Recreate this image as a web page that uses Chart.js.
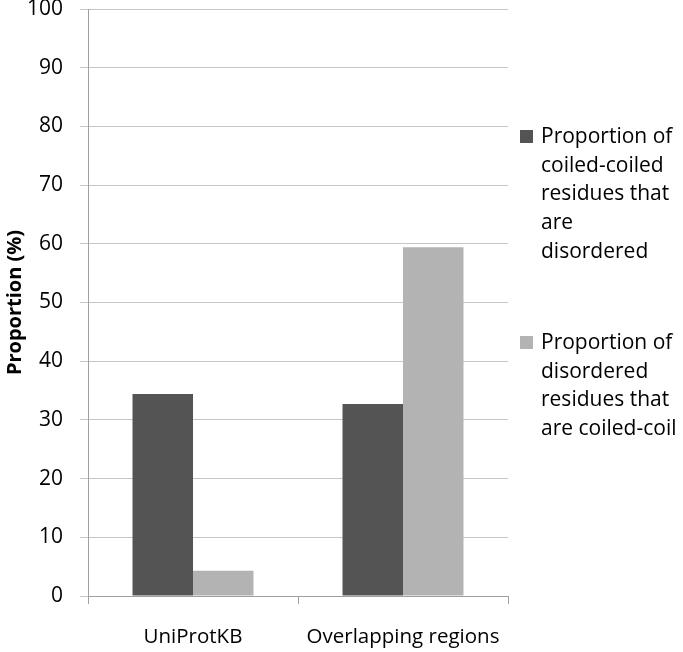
<!DOCTYPE html>
<html>
<head>
<meta charset="utf-8">
<script src="https://cdn.jsdelivr.net/npm/chart.js@4/dist/chart.umd.min.js"></script>
<style>
  html, body { margin: 0; padding: 0; background: #fff; }
  #wrap { width: 683px; height: 652px; position: relative; }
</style>
</head>
<body>
<div id="wrap"><canvas id="barChart"></canvas></div>
<script>
const categories = ['UniProtKB', 'Overlapping regions'];
const disorderedCoiled = [34.4, 32.7];
const coiledDisordered = [4.3, 59.4];
const seriesLines = [
    ['Proportion of', 'coiled-coiled', 'residues that', 'are', 'disordered'],
    ['Proportion of', 'disordered', 'residues that', 'are coiled-coil']
];
const seriesColors = ['#545454', '#b3b3b3'];
const yTicks = [0, 10, 20, 30, 40, 50, 60, 70, 80, 90, 100];

const FONT = '"Open Sans", sans-serif';

// legend with wrapped labels, drawn to the right of the plot
const sideLegend = {
    id: 'sideLegend',
    afterDraw(chart) {
        const ctx = chart.ctx;
        const tops = [137, 343];
        const lineH = 28.7;
        ctx.save();
        ctx.font = '21px ' + FONT;
        ctx.textBaseline = 'middle';
        ctx.textAlign = 'left';
        chart.data.datasets.forEach((ds, i) => {
            const y0 = tops[i];
            ctx.fillStyle = ds.backgroundColor;
            ctx.fillRect(520, y0 - 7, 13, 13);
            ctx.fillStyle = '#000';
            ds.lines.forEach((t, j) => ctx.fillText(t, 541, y0 + j * lineH));
        });
        ctx.restore();
    }
};

new Chart(document.getElementById('barChart'), {
    type: 'bar',
    data: {
        labels: categories,
        datasets: [
            { label: seriesLines[0].join(' '), lines: seriesLines[0], data: disorderedCoiled, backgroundColor: seriesColors[0] },
            { label: seriesLines[1].join(' '), lines: seriesLines[1], data: coiledDisordered, backgroundColor: seriesColors[1] }
        ]
    },
    options: {
        responsive: true,
        maintainAspectRatio: false,
        animation: false,
        layout: { padding: { top: 9, right: 175, bottom: 0, left: 0 } },
        datasets: { bar: { barPercentage: 1, categoryPercentage: 0.576 } },
        plugins: {
            legend: { display: false },
            tooltip: { enabled: false }
        },
        scales: {
            x: {
                afterFit: (scale) => { scale.height = 56; scale.paddingLeft = 0; scale.paddingRight = 0; },
                grid: { offset: true, drawOnChartArea: false, tickLength: 8, color: '#a0a0a0' },
                border: { color: '#a0a0a0' },
                ticks: { color: '#000', font: { family: FONT, size: 20.5 }, padding: 21, maxRotation: 0, minRotation: 0, autoSkip: false }
            },
            y: {
                min: 0,
                max: 100,
                afterBuildTicks: (axis) => { axis.ticks = yTicks.map(v => ({ value: v })); },
                afterFit: (scale) => { scale.width = 88; scale.paddingTop = 0; scale.paddingBottom = 0; },
                grid: { color: '#c6c6c6', tickLength: 8 },
                border: { color: '#a0a0a0' },
                ticks: { color: '#000', font: { family: FONT, size: 21 }, padding: 17 },
                title: {
                    display: true,
                    text: 'Proportion (%)',
                    color: '#000',
                    font: { family: FONT, size: 20, weight: 'bold' },
                    padding: { top: 3, bottom: 0 }
                }
            }
        }
    },
    plugins: [sideLegend]
});
</script>
</body>
</html>
